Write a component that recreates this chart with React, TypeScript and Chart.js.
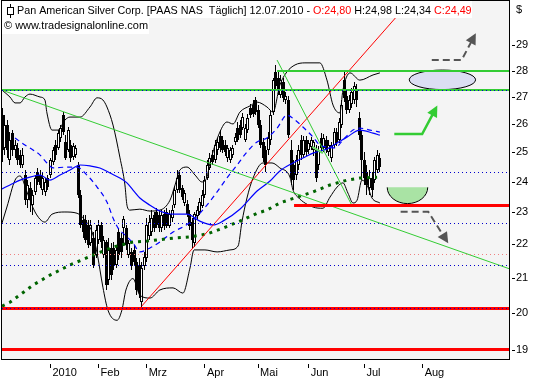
import React, { useEffect, useRef } from 'react';
import { Chart, registerables } from 'chart.js';

Chart.register(...registerables);

// ---------- data (trading-day index, 0 = 4 Jan 2010) ----------
const FIRST_DAY = -19;
const OPEN = [26.32,25.15,25.96,24.73,25.67,25.08,25.15,24.90,24.56,24.22,23.39,23.79,23.23,23.66,24.32,24.22,23.72,23.66,24.12,
  24.22,24.66,25.25,25.15,25.50,26.32,25.36,25.08,25.25,24.83,24.90,24.56,23.56,22.75,22.75,22.60,22.04,22.19,21.67,22.13,
  22.60,21.67,22.07,20.94,21.89,21.89,21.38,22.38,22.19,22.50,22.50,21.67,21.77,21.83,21.47,21.38,20.30,21.35,21.59,22.26,
  22.38,22.91,23.01,22.91,22.50,22.94,23.01,22.57,22.82,23.23,23.72,24.22,23.79,23.30,23.26,22.94,22.69,22.04,22.88,23.01,
  23.20,23.56,24.12,24.46,24.90,24.73,25.08,25.57,25.43,25.25,24.80,24.73,24.90,25.36,25.85,25.96,25.85,25.43,25.78,26.58,
  26.69,26.88,26.51,25.96,25.36,25.08,25.08,25.43,26.43,27.95,27.71,27.07,27.55,26.88,26.88,25.08,24.56,24.22,24.56,25.43,
  24.90,25.43,25.08,25.18,25.08,25.08,24.56,25.50,25.15,25.43,25.01,24.80,25.25,25.71,25.43,25.96,27.63,27.03,26.51,26.73,
  26.88,27.25,26.21,25.60,24.73,24.32,23.79,24.12,24.05,24.39,24.80];
const HIGH = [26.58,26.32,26.14,25.71,25.78,25.43,25.32,25.08,25.15,24.39,24.05,23.99,23.72,24.22,24.46,24.39,24.32,24.12,24.22,
  24.80,25.18,25.43,25.78,25.96,26.43,25.60,25.89,25.43,25.32,25.25,24.66,23.72,22.91,22.91,22.75,22.75,22.38,22.60,22.75,
  22.69,22.26,22.13,22.19,22.04,22.07,21.98,22.50,22.35,22.88,22.60,22.13,21.89,21.98,21.59,21.59,21.47,21.77,22.82,22.91,
  23.07,23.01,23.13,23.07,23.07,23.07,23.13,23.07,23.23,23.86,24.39,24.32,23.89,23.72,23.39,23.07,22.82,23.01,23.20,23.46,
  23.72,24.19,24.73,24.97,25.08,25.43,25.50,25.78,25.57,25.43,25.25,25.18,25.25,25.67,26.07,26.14,26.40,26.00,26.36,26.73,
  26.88,26.99,26.69,26.14,25.50,25.22,25.71,26.51,27.71,28.22,27.95,27.83,27.71,27.18,27.03,25.43,24.73,24.90,25.25,25.60,
  25.57,25.57,25.43,25.53,25.43,25.25,25.22,25.67,25.64,25.57,25.43,25.36,25.85,25.85,26.21,26.88,27.95,27.25,27.07,27.33,
  27.55,27.48,26.43,25.78,25.01,24.56,24.39,24.32,24.83,25.08,24.98];
const LOW = [24.66,24.90,24.80,24.56,24.87,24.80,24.56,24.46,24.46,23.23,23.13,23.01,22.91,23.56,23.89,23.79,23.56,23.52,23.72,
  24.12,24.56,24.73,25.08,25.36,25.60,24.73,25.01,24.66,24.73,24.80,23.46,22.50,22.19,22.04,21.89,21.95,21.29,21.59,22.01,
  21.89,21.59,20.65,20.79,20.94,21.23,21.29,21.53,21.59,22.04,21.83,21.59,21.23,21.38,20.50,20.42,20.08,21.23,21.47,22.13,
  22.26,22.38,22.50,22.38,22.38,22.44,22.50,22.50,22.69,23.13,23.62,23.62,23.39,23.20,22.85,22.44,21.89,21.92,22.75,22.91,
  23.13,23.46,24.05,24.39,24.56,24.63,24.90,25.01,24.97,24.87,24.66,24.63,24.80,25.25,25.36,25.50,25.78,25.36,25.67,26.21,
  26.25,26.32,25.85,25.15,24.66,24.32,24.90,25.25,26.32,27.25,27.07,26.95,26.80,26.73,25.50,23.89,23.72,24.05,24.39,24.73,
  24.80,24.87,24.94,25.08,24.87,23.99,24.39,25.01,25.01,24.97,24.87,24.66,25.15,25.22,25.32,25.85,26.80,26.36,26.40,26.58,
  26.73,26.62,25.43,24.05,23.89,23.56,23.56,23.49,23.96,24.29,24.34];
const CLOSE = [25.08,25.96,25.08,25.43,25.08,25.25,24.73,24.56,24.90,23.39,23.89,23.39,23.56,24.12,23.99,23.89,24.12,23.99,23.82,
  24.73,25.08,24.90,25.67,25.85,25.71,24.80,25.78,24.80,25.22,25.15,23.56,22.60,22.38,22.13,21.98,22.60,21.38,22.44,22.60,
  22.07,22.13,20.79,21.83,21.08,21.38,21.83,21.67,21.77,22.78,21.98,22.04,21.35,21.47,20.65,20.59,21.29,21.62,22.60,22.69,
  22.82,22.50,22.60,22.50,22.91,22.57,22.57,22.94,23.07,23.72,24.12,23.72,23.49,23.62,22.94,22.57,22.13,22.94,23.07,23.33,
  23.56,24.05,24.56,24.80,24.66,25.25,25.36,25.15,25.08,25.01,25.15,25.08,25.15,25.53,25.43,25.60,26.25,25.85,26.21,26.32,
  26.36,26.43,25.96,25.25,24.80,24.56,25.50,26.32,27.63,27.40,27.25,27.63,26.95,27.03,25.60,24.12,24.05,24.73,25.08,24.90,
  25.43,25.01,25.32,25.43,25.36,24.12,25.08,25.15,25.50,25.08,25.25,25.25,25.71,25.36,26.07,26.69,26.95,26.51,26.88,27.18,
  27.40,26.88,25.60,24.73,24.12,23.89,24.12,23.72,24.73,24.90,24.49];

const PRICE_TICKS = [19, 20, 21, 22, 23, 24, 25, 26, 27, 28, 29];
const MONTH_TICKS = [0, 19, 38, 61, 82, 102, 124, 147];
const MONTH_LABELS = ['2010', 'Feb', 'Mrz', 'Apr', 'Mai', 'Jun', 'Jul', 'Aug'];
const X_MIN = -19.15;
const X_MAX = 181.1;
const Y_MIN = 18.738;
const Y_MAX = 30.88;

type P = [number, number];
const BB_UPPER: P[] = [[-19.15,27.25],[-16,26.99],[-14,26.77],[-12,26.77],[-10.1,26.99],[-8.1,27.1],[-4.1,26.99],[-2.2,26.88],
  [-1.4,26.4],[0.6,25.78],[3,25.78],[5.7,26.14],[7.7,26.25],[11.7,26.25],[15.6,26.62],[18.4,26.96],[20.7,26.88],[22.3,26.62],
  [24.7,25.96],[27.4,24.83],[29.4,23.89],[30.2,23.23],[31.4,23.07],[35.3,23.1],[39.3,23.04],[43.2,23.07],[47.2,23.39],
  [49.2,23.89],[51.1,24.39],[53.9,24.49],[57.1,24.22],[59.8,23.99],[61.8,24.15],[63,24.63],[66.9,25.71],[69.7,26.07],
  [72.1,26.0],[74.8,26.43],[78.8,26.66],[81.6,26.8],[85.5,26.62],[87.9,26.43],[90.6,27.44],[93.4,27.95],[96.6,28.22],
  [100.5,28.3],[106.4,28.3],[109.2,27.63],[111.6,26.69],[114.3,26.4],[115.5,27.25],[118.3,27.91],[122.2,27.63],
  [127.4,27.83],[130.1,27.91]];
const BB_LOWER: P[] = [[-19.15,22.66],[-17.2,23.17],[-14,24.05],[-12,24.19],[-9.3,23.66],[-6.1,23.01],[-2.2,22.69],[0.6,22.94],
  [5.7,23.01],[10.5,22.97],[13.6,22.75],[16.4,22.38],[18.4,21.74],[20.7,20.73],[22.7,20.08],[26.3,19.8],[28.2,20.08],
  [29.8,20.65],[32.6,20.98],[35.3,20.5],[39.3,20.42],[43.2,20.65],[48.4,20.71],[52.3,20.56],[55.1,21.29],[56.7,21.83],
  [61,21.83],[65.8,21.77],[70.9,21.83],[74.1,21.95],[75.6,22.69],[77.6,23.46],[80,24.12],[83.9,24.63],[87.5,24.63],
  [90.6,24.46],[94.6,24.15],[95.8,23.72],[97.7,23.49],[103.7,23.17],[107.6,23.13],[110.4,23.49],[113.2,23.82],[115.5,23.96],
  [117.5,23.62],[119.5,23.3],[121.1,23.39],[123,24.05],[125,23.89],[127,23.46],[130.1,23.3]];
const SMA20: P[] = [[-14,25.5],[-10.1,25.25],[-6.9,25.08],[-4.1,24.9],[-1.4,24.63],[1,24.46],[6.5,24.49],[10.5,24.49],
  [14.4,24.22],[18.4,23.82],[22.3,23.33],[24.7,22.82],[26.7,22.5],[29.4,22.29],[32.6,22.04],[35.3,21.77],[39.3,21.89],
  [43.2,22.07],[48.4,22.38],[52.3,22.54],[56.3,22.75],[61.8,23.23],[65.8,23.66],[69.7,24.12],[73.7,24.56],[77.6,25.01],
  [81.6,25.36],[85.5,25.5],[89.5,25.85],[93.4,26.32],[96.6,26.14],[99.7,25.89],[103.7,25.53],[106.4,25.25],[109.2,25.18],
  [112.4,25.15],[115.5,25.43],[119.5,25.78],[122.2,25.85],[126.2,25.78],[130.1,25.71]];
const SMA50: P[] = [[-19.15,23.76],[-16,23.89],[-12,24.05],[-8.1,24.15],[-4.1,24.22],[-0.2,24.05],[3.8,24.22],[7.7,24.39],
  [11.7,24.56],[15.6,24.53],[19.5,24.46],[23.5,24.29],[27.4,24.12],[30.2,23.96],[32.6,23.72],[35.3,23.46],[39.3,23.23],
  [43.2,23.04],[48.4,22.94],[53.9,22.94],[59,22.72],[64.2,22.6],[68.1,22.72],[74.8,23.1],[81.6,23.69],[86.7,24.02],
  [90.6,24.36],[95.8,24.63],[99.7,24.8],[103.7,24.97],[109.2,25.11],[113.2,25.32],[117.1,25.53],[122.2,25.78],
  [127.4,25.67],[130.1,25.6]];
const SMA200: P[] = [[-19.15,20.19],[-16,20.3],[-6.9,20.79],[-0.2,21.08],[7.7,21.38],[16.8,21.67],[24.7,21.92],[32.6,22.07],
  [38.1,22.1],[48.4,22.19],[55.1,22.23],[61.8,22.32],[68.1,22.5],[74.8,22.72],[81.6,22.97],[85.5,23.07],[90.6,23.3],
  [97.4,23.49],[103.7,23.66],[110.4,23.89],[117.1,24.05],[122.2,24.12],[129,24.15]];

const TREND_DOWN: P[] = [[-19.15, 27.25], [181.1, 21.27]];
const TREND_STEEP: P[] = [[89.5, 28.41], [119.0, 23.23]];
const TREND_UP: P[] = [[36, 20.19], [150, 31.82]];
const FLAG: P[] = [[103.4, 25.19], [107.6, 24.97]];

const RESIST_TOP = 28.0;
const RESIST_TOP_FROM = 89.5;
const RESIST = 27.25;
const SUPPORT = 23.23;
const SUPPORT_FROM = 96.2;
const SUPPORT_LOW = 20.14;
const SUPPORT_BOTTOM = 19.0;
const FIB_LEVELS = [27.25, 24.29, 22.63, 21.35, 20.14];
const FIB_MID = 21.70;

const TARGET_ELLIPSE = { from: 141.7, to: 167.9, low: 27.27, high: 28.02 };
const BOWL = { from: 133.0, to: 149.0, top: 23.81, bottom: 23.28 };
const GREEN_ARROW: P[] = [[135.8, 25.64], [146.8, 25.64], [152.8, 26.67]];
const GRAY_UP_ARROW: P[] = [[150.6, 28.41], [162.4, 28.41], [168.0, 29.49]];
const GRAY_DOWN_ARROW: P[] = [[138.3, 23.02], [149.2, 23.02], [152.5, 22.6], [157.1, 22.03]];

const HEADER_PARTS: [string, string][] = [
  ['Pan American Silver Corp. [PAAS NAS  T\u00e4glich] 12.07.2010 - ', '#000000'],
  ['O:24,80', '#ff0000'],
  [' H:24,98 L:24,34 ', '#000000'],
  ['C:24,49', '#ff0000'],
];
const COPYRIGHT = '\u00a9 www.tradesignalonline.com';
const FONT = '"Liberation Sans", Arial, sans-serif';

const pts = (a: P[]) => a.map(([x, y]) => ({ x, y }));
const hline = (v: number, from = X_MIN, to = X_MAX) => [{ x: from, y: v }, { x: to, y: v }];

function lineDs(data: any[], color: string, width: number, order: number, extra: any = {}) {
  return { type: 'line', data, borderColor: color, borderWidth: width, pointRadius: 0, fill: false, tension: 0, order, clip: 0, ...extra };
}

function drawArrow(ctx: CanvasRenderingContext2D, p: { x: number; y: number }[], color: string, width: number, dash: number[], head: number) {
  ctx.save();
  ctx.strokeStyle = color;
  ctx.fillStyle = color;
  ctx.lineWidth = width;
  ctx.setLineDash(dash);
  const a = p[p.length - 2];
  const b = p[p.length - 1];
  const ang = Math.atan2(b.y - a.y, b.x - a.x);
  const ex = b.x - Math.cos(ang) * head * 0.8;
  const ey = b.y - Math.sin(ang) * head * 0.8;
  ctx.beginPath();
  ctx.moveTo(p[0].x, p[0].y);
  for (let i = 1; i < p.length - 1; i++) ctx.lineTo(p[i].x, p[i].y);
  ctx.lineTo(ex, ey);
  ctx.stroke();
  ctx.setLineDash([]);
  ctx.beginPath();
  ctx.moveTo(b.x, b.y);
  ctx.lineTo(b.x - Math.cos(ang) * head + Math.sin(ang) * head * 0.5, b.y - Math.sin(ang) * head - Math.cos(ang) * head * 0.5);
  ctx.lineTo(b.x - Math.cos(ang) * head - Math.sin(ang) * head * 0.5, b.y - Math.sin(ang) * head + Math.cos(ang) * head * 0.5);
  ctx.closePath();
  ctx.fill();
  ctx.restore();
}

function fitFont(ctx: CanvasRenderingContext2D, text: string, width: number) {
  ctx.font = '11px ' + FONT;
  const w = ctx.measureText(text).width;
  const size = Math.min(12, Math.max(9, (11 * width) / w));
  return size.toFixed(2) + 'px ' + FONT;
}

const decorPlugin = {
  id: 'decor',
  afterDatasetsUpdate(chart: any) {
    chart.data.datasets.forEach((ds: any, i: number) => {
      const meta = chart.getDatasetMeta(i);
      if (ds.candle) {
        meta.data.forEach((el: any) => {
          el.x = Math.floor(el.x) + 0.5;
          const y = Math.round(el.y);
          let b = Math.round(el.base);
          if (Math.abs(y - b) < 1) b = y + 1;
          el.y = y;
          el.base = b;
        });
      } else if (ds.snap) {
        const w = ds.borderWidth;
        meta.data.forEach((pt: any) => {
          pt.y = Math.round(w) % 2 === 1 ? Math.floor(pt.y) + 0.5 : Math.round(pt.y);
        });
      }
    });
  },
  beforeDraw(chart: any) {
    const { ctx, chartArea: a } = chart;
    ctx.save();
    ctx.fillStyle = '#ffffff';
    ctx.fillRect(0, 0, chart.width, chart.height);
    ctx.fillStyle = '#f4f4f4';
    ctx.fillRect(a.left, a.top, a.right - a.left, a.bottom - a.top);
    ctx.restore();
  },
  beforeDatasetsDraw(chart: any) {
    const { ctx } = chart;
    const xs = chart.scales.x;
    const ys = chart.scales.y;
    ctx.save();
    const ex0 = xs.getPixelForValue(TARGET_ELLIPSE.from);
    const ex1 = xs.getPixelForValue(TARGET_ELLIPSE.to);
    const ey0 = ys.getPixelForValue(TARGET_ELLIPSE.high);
    const ey1 = ys.getPixelForValue(TARGET_ELLIPSE.low);
    ctx.beginPath();
    ctx.ellipse((ex0 + ex1) / 2, (ey0 + ey1) / 2, (ex1 - ex0) / 2, (ey1 - ey0) / 2, 0, 0, Math.PI * 2);
    ctx.fillStyle = '#dcdef3';
    ctx.fill();
    ctx.strokeStyle = '#000';
    ctx.lineWidth = 1;
    ctx.stroke();
    const bx0 = xs.getPixelForValue(BOWL.from);
    const bx1 = xs.getPixelForValue(BOWL.to);
    const by0 = ys.getPixelForValue(BOWL.top);
    const by1 = ys.getPixelForValue(BOWL.bottom);
    ctx.beginPath();
    ctx.ellipse((bx0 + bx1) / 2, by0, (bx1 - bx0) / 2, by1 - by0, 0, 0, Math.PI);
    ctx.closePath();
    ctx.fillStyle = '#a9e3a4';
    ctx.fill();
    ctx.beginPath();
    ctx.ellipse((bx0 + bx1) / 2, by0, (bx1 - bx0) / 2, by1 - by0, 0, 0, Math.PI);
    ctx.strokeStyle = '#000';
    ctx.stroke();
    ctx.restore();
  },
  afterDatasetsDraw(chart: any) {
    const { ctx } = chart;
    const xs = chart.scales.x;
    const ys = chart.scales.y;
    const px = (a: P[]) => a.map(([x, y]) => ({ x: xs.getPixelForValue(x), y: ys.getPixelForValue(y) }));
    drawArrow(ctx, px(GREEN_ARROW), '#33cc33', 2.5, [], 11);
    drawArrow(ctx, px(GRAY_UP_ARROW), '#555555', 2, [7, 4], 11);
    drawArrow(ctx, px(GRAY_DOWN_ARROW), '#555555', 2, [7, 4], 11);
  },
  afterDraw(chart: any) {
    const { ctx, chartArea: a } = chart;
    const xs = chart.scales.x;
    const ys = chart.scales.y;
    ctx.save();
    ctx.strokeStyle = '#000';
    ctx.lineWidth = 1;
    ctx.strokeRect(a.left - 0.5, a.top + 0.5, a.right - a.left + 1, a.bottom - a.top - 1);
    ctx.fillStyle = '#000';
    PRICE_TICKS.forEach((v) => {
      const y = Math.round(ys.getPixelForValue(v));
      ctx.fillRect(a.right + 3, y, 3, 1);
    });
    MONTH_TICKS.forEach((v) => {
      const x = Math.floor(xs.getPixelForValue(v));
      ctx.fillRect(x, a.bottom + 4, 1, 4);
    });
    ctx.fillStyle = '#ffffff';
    ctx.fillRect(a.left, a.top + 1, 470, 17);
    ctx.fillRect(a.left, a.top + 18, 147, 16);
    ctx.strokeStyle = '#000';
    ctx.beginPath();
    ctx.moveTo(10.5, 4);
    ctx.lineTo(10.5, 18);
    ctx.stroke();
    ctx.fillStyle = '#fff';
    ctx.fillRect(8, 7, 5, 8);
    ctx.strokeRect(7.5, 7.5, 6, 7);
    ctx.textBaseline = 'middle';
    const full = HEADER_PARTS.map((p) => p[0]).join('');
    ctx.font = fitFont(ctx, full, 455);
    let x = 17;
    HEADER_PARTS.forEach(([t, c]) => {
      ctx.fillStyle = c;
      ctx.fillText(t, x, 11);
      x += ctx.measureText(t).width;
    });
    ctx.fillStyle = '#000';
    ctx.font = fitFont(ctx, COPYRIGHT, 144);
    ctx.fillText(COPYRIGHT, 4, 26);
    ctx.font = '11px ' + FONT;
    ctx.fillText('$', 516, 10);
    ctx.restore();
  },
};

export default function App() {
  const ref = useRef<HTMLCanvasElement | null>(null);
  useEffect(() => {
    if (!ref.current) return;
    const wicks = CLOSE.map((_, i) => ({ x: FIRST_DAY + i, y: [LOW[i], HIGH[i]] }));
    const bodies = CLOSE.map((c, i) => ({ x: FIRST_DAY + i, y: [OPEN[i], c] }));
    const bodyColors = CLOSE.map((c, i) => (c >= OPEN[i] ? '#ffffff' : '#000000'));

    const datasets: any[] = [];
    FIB_LEVELS.forEach((v) => datasets.push(lineDs(hline(v), '#0000cc', 1, 1, { borderDash: [1, 3], snap: true })));
    datasets.push(lineDs(hline(FIB_MID), '#f08080', 1, 1, { borderDash: [1, 3], snap: true }));
    datasets.push(lineDs(hline(RESIST_TOP, RESIST_TOP_FROM), '#33cc33', 2, 2, { snap: true }));
    datasets.push(lineDs(hline(RESIST), '#33cc33', 2, 2, { snap: true }));
    datasets.push(lineDs(hline(SUPPORT, SUPPORT_FROM), '#ff0000', 3, 2, { snap: true }));
    datasets.push(lineDs(hline(SUPPORT_LOW), '#ff0000', 3, 2, { snap: true }));
    datasets.push(lineDs(hline(SUPPORT_BOTTOM), '#ff0000', 3, 2, { snap: true }));
    datasets.push(lineDs(pts(TREND_DOWN), '#33cc33', 1, 2));
    datasets.push(lineDs(pts(TREND_STEEP), '#33cc33', 1, 2));
    datasets.push(lineDs(pts(TREND_UP), '#ff0000', 1, 2));
    datasets.push(lineDs(pts(FLAG), '#66dd66', 2, 2));
    datasets.push(lineDs(pts(SMA200), '#006400', 3, 3, { borderDash: [3, 5] }));
    datasets.push(lineDs(pts(SMA50), '#0000ff', 1.2, 3, { cubicInterpolationMode: 'monotone' }));
    datasets.push(lineDs(pts(SMA20), '#0000ff', 1.2, 3, { borderDash: [5, 4], cubicInterpolationMode: 'monotone' }));
    datasets.push(lineDs(pts(BB_UPPER), '#000000', 1, 3, { cubicInterpolationMode: 'monotone' }));
    datasets.push(lineDs(pts(BB_LOWER), '#000000', 1, 3, { cubicInterpolationMode: 'monotone' }));
    datasets.push({
      type: 'bar', data: bodies, backgroundColor: bodyColors, borderColor: '#000000', borderWidth: 1,
      borderSkipped: false, barThickness: 3, grouped: false, order: 5, candle: true, inflateAmount: 0,
    });
    datasets.push({
      type: 'bar', data: wicks, backgroundColor: '#000000', borderWidth: 0, barThickness: 1,
      grouped: false, order: 6, candle: true, inflateAmount: 0,
    });

    const chart = new Chart(ref.current, {
      type: 'line',
      data: { datasets },
      options: {
        responsive: false,
        animation: false,
        devicePixelRatio: 1,
        events: [],
        layout: { padding: { left: 2, top: 0, right: 0, bottom: 0 } },
        plugins: { legend: { display: false }, tooltip: { enabled: false } },
        scales: {
          x: {
            type: 'linear', min: X_MIN, max: X_MAX, offset: false,
            grid: { display: false, drawTicks: false }, border: { display: false },
            ticks: {
              autoSkip: false, maxRotation: 0, minRotation: 0, align: 'start', labelOffset: 2, padding: 6,
              color: '#000', font: { family: FONT, size: 11 },
              callback: (_v: any, i: number) => MONTH_LABELS[i],
            },
            afterBuildTicks: (s: any) => { s.ticks = MONTH_TICKS.map((v) => ({ value: v })); },
            afterFit: (s: any) => { s.height = 20; s.paddingLeft = 0; s.paddingRight = 0; },
          },
          y: {
            type: 'logarithmic', position: 'right', min: Y_MIN, max: Y_MAX, bounds: 'data',
            grid: { display: false, drawTicks: false }, border: { display: false },
            ticks: {
              autoSkip: false, padding: 7, color: '#000', font: { family: FONT, size: 11 },
              callback: (v: any) => String(v),
            },
            afterBuildTicks: (s: any) => { s.ticks = PRICE_TICKS.map((v) => ({ value: v })); },
            afterFit: (s: any) => { s.width = 24; s.paddingTop = 0; s.paddingBottom = 0; },
          },
        },
      } as any,
      plugins: [decorPlugin],
    } as any);
    return () => chart.destroy();
  }, []);

  return (
    <div style={{ position: 'absolute', left: 0, top: 0, width: 533, height: 380 }}>
      <canvas ref={ref} width={533} height={380} style={{ display: 'block', width: 533, height: 380 }} />
    </div>
  );
}
